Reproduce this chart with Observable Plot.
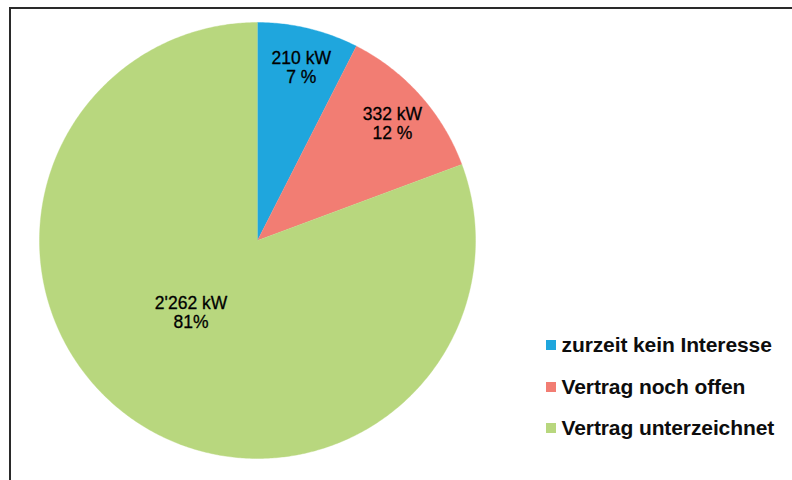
<!DOCTYPE html>
<html>
<head>
<meta charset="utf-8">
<script src="https://cdn.jsdelivr.net/npm/d3@7"></script>
<script src="https://cdn.jsdelivr.net/npm/@observablehq/plot@0.6"></script>
<style>
  html, body { margin: 0; padding: 0; background: #fff; overflow: hidden; }
  #wrap { position: relative; width: 792px; height: 480px; overflow: hidden; }
  #frame { position: absolute; left: 9px; top: 7px; width: 900px; height: 600px;
           border-top: 2px solid #2a2a2a; border-left: 2px solid #2a2a2a; box-sizing: border-box; }
  #chart { position: absolute; left: 0; top: 0; }
  #legend { position: absolute; left: 546px; top: 333px; font-family: "Liberation Sans", Arial, sans-serif;
            font-weight: bold; font-size: 21px; line-height: 24px; color: #0d0d0d; }
  .row { position: relative; height: 41.5px; white-space: nowrap; }
  .sw { position: absolute; left: 0; top: 7px; width: 10px; height: 10px; }
  .lbl { position: absolute; left: 15.5px; top: 0; letter-spacing: -0.1px; }
</style>
</head>
<body>
<div id="wrap">
  <div id="frame"></div>
  <div id="chart"></div>
  <div id="legend"></div>
</div>
<script>
const categories = ["zurzeit kein Interesse", "Vertrag noch offen", "Vertrag unterzeichnet"];
const values = [210, 332, 2262];
const valueLabels = ["210 kW", "332 kW", "2'262 kW"];
const percentLabels = ["7 %", "12 %", "81%"];
const colors = ["#1fa6dd", "#f27d73", "#b8d77e"];

const rows = categories.map((c, i) => ({cat: c, value: values[i], label: valueLabels[i] + "\n" + percentLabels[i]}));
const arcs = d3.pie().sort(null).value(d => d.value).startAngle(0).endAngle(2 * Math.PI)(rows);

// polygon outline of each slice, in unit-circle coordinates
const outline = arcs.flatMap(a => {
  const span = a.endAngle - a.startAngle;
  const n = Math.max(2, Math.ceil(span / (Math.PI / 360)));
  const pts = [{cat: a.data.cat, x: 0, y: 0}];
  for (let k = 0; k <= n; ++k) {
    const t = a.startAngle + span * k / n;
    pts.push({cat: a.data.cat, x: Math.sin(t), y: Math.cos(t)});
  }
  return pts;
});

// label placement: small slices near the rim, the large one closer to the centre
const labels = arcs.map(a => {
  const mid = (a.startAngle + a.endAngle) / 2;
  const share = (a.endAngle - a.startAngle) / (2 * Math.PI);
  const r = share < 0.2 ? 0.82 : 0.45;
  const t = mid + (share < 0.2 ? 0.012 : 0.137);
  return {text: a.data.label, x: r * Math.sin(t), y: r * Math.cos(t)};
});

const chart = Plot.plot({
  width: 792, height: 480,
  marginLeft: 39, marginRight: 317, marginTop: 22, marginBottom: 22,
  style: {fontFamily: "'Liberation Sans', Arial, sans-serif", background: "transparent", overflow: "visible"},
  x: {domain: [-1, 1], axis: null},
  y: {domain: [-1, 1], axis: null},
  color: {domain: categories, range: colors},
  marks: [
    Plot.line(outline, {x: "x", y: "y", z: "cat", fill: "cat", stroke: "cat", strokeWidth: 0.4, curve: "linear"}),
    Plot.text(labels, {x: "x", y: "y", text: "text", fontSize: 17.5, lineHeight: 1.09, fill: "#000",
                       stroke: "#000", strokeWidth: 0.3, textAnchor: "middle"})
  ]
});
document.getElementById("chart").appendChild(chart);

const legend = d3.select("#legend");
categories.forEach((c, i) => {
  const row = legend.append("div").attr("class", "row");
  row.append("div").attr("class", "sw").style("background", colors[i]);
  row.append("div").attr("class", "lbl").text(c);
});
</script>
</body>
</html>
